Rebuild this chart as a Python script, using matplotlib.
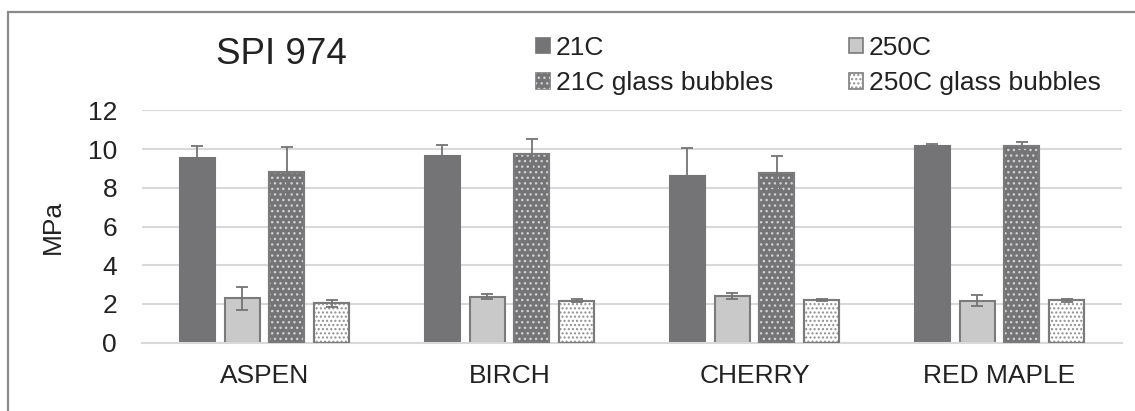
import numpy as np
import matplotlib
matplotlib.use("Agg")
import matplotlib.pyplot as plt
from matplotlib.patches import Patch, Rectangle

plt.rcParams['font.family'] = ['Liberation Sans', 'DejaVu Sans']
plt.rcParams['hatch.linewidth'] = 1.0

woods = ["ASPEN", "BIRCH", "CHERRY", "RED MAPLE"]
series = ["21C", "250C", "21C glass bubbles", "250C glass bubbles"]

# mean strength (MPa) and std dev, one list per series
mean_21 = [9.52, 9.64, 8.61, 10.15]
err_21 = [0.63, 0.58, 1.43, 0.10]
mean_250 = [2.29, 2.38, 2.43, 2.17]
err_250 = [0.60, 0.12, 0.15, 0.30]
mean_21gb = [8.83, 9.72, 8.75, 10.15]
err_21gb = [1.29, 0.80, 0.89, 0.23]
mean_250gb = [2.03, 2.17, 2.20, 2.20]
err_250gb = [0.17, 0.09, 0.07, 0.08]

means = [mean_21, mean_250, mean_21gb, mean_250gb]
errs = [err_21, err_250, err_21gb, err_250gb]

dark = '#747477'
light = '#c9c9c9'
edge = '#7b7b7b'
styles = [
    dict(face=dark, edge=dark, hatch=None, hcol=None),
    dict(face=light, edge=edge, hatch=None, hcol=None),
    dict(face=dark, edge=edge, hatch='...', hcol='#d0d0d0'),
    dict(face='white', edge=edge, hatch='....', hcol='#8e8e8e'),
]
fs = 19

fig = plt.figure(figsize=(11.35, 4.11), dpi=100)
ax = fig.add_axes([142 / 1135, 0.1662, 980 / 1135, 0.7316 - 0.1662])

x = np.arange(len(woods))
step = 0.1825
width = 0.143
handles = []
for i, (m, e, st) in enumerate(zip(means, errs, styles)):
    pos = x + (i - 1.5) * step
    ax.bar(pos, m, width, color=st['face'], edgecolor=st['edge'], linewidth=1.5, zorder=2)
    if st['hatch']:
        ax.bar(pos, m, width, color='none', edgecolor=st['hcol'], hatch=st['hatch'],
               linewidth=0, zorder=3)
        ax.bar(pos, m, width, color='none', edgecolor=st['edge'], linewidth=1.5, zorder=4)
    ax.errorbar(pos, m, yerr=e, fmt='none', ecolor=dark, elinewidth=1.3,
                capsize=4.5, capthick=1.3, zorder=5)
    face = Patch(facecolor=st['face'], edgecolor=st['edge'], linewidth=1.2)
    if st['hatch']:
        hp = Patch(facecolor='none', edgecolor=st['hcol'], hatch=st['hatch'], linewidth=0)
        handles.append((face, hp))
    else:
        handles.append(face)

ax.set_ylim(0, 12)
ax.set_xlim(-0.5, 3.5)
ax.set_yticks(np.arange(0, 13, 2))
ax.set_xticks(x)
ax.set_xticklabels(woods)
ax.grid(axis='y', color='#d9d9d9', linewidth=1.5, zorder=0)
ax.set_axisbelow(True)
for s in ['top', 'right', 'left']:
    ax.spines[s].set_visible(False)
ax.spines['bottom'].set_color('#d9d9d9')
ax.spines['bottom'].set_linewidth(1.5)
ax.tick_params(axis='both', length=0, labelsize=fs, colors='#222222')
ax.tick_params(axis='x', pad=15)
ax.tick_params(axis='y', pad=18)
ax.set_ylabel("MPa", fontsize=fs, color='#222222')
ax.yaxis.set_label_coords(-0.079, 0.5)

fig.text(281 / 1135, 1 - 55 / 411, "SPI 974", fontsize=26.5, ha='center', va='center',
         color='#222222')

# legend fills column by column: 21C / 21C gb, then 250C / 250C gb
order = [0, 2, 1, 3]
leg = fig.legend([handles[k] for k in order], [series[k] for k in order], ncol=2,
                 loc='upper left', bbox_to_anchor=(536 / 1135, 1 - 36 / 411),
                 frameon=False, fontsize=fs, handlelength=0.53, handleheight=0.53,
                 handletextpad=0.23, columnspacing=2.85, labelspacing=0.42,
                 borderaxespad=0, borderpad=0)
for t in leg.get_texts():
    t.set_color('#222222')

# outer frame around the chart area
fig.patches.append(Rectangle((8 / 1135, -0.1), 1.2, 1 - 12 / 411 + 0.1,
                             transform=fig.transFigure, fill=False,
                             edgecolor='#8a8a8a', linewidth=1.6))

fig.savefig("out.png", dpi=100)
